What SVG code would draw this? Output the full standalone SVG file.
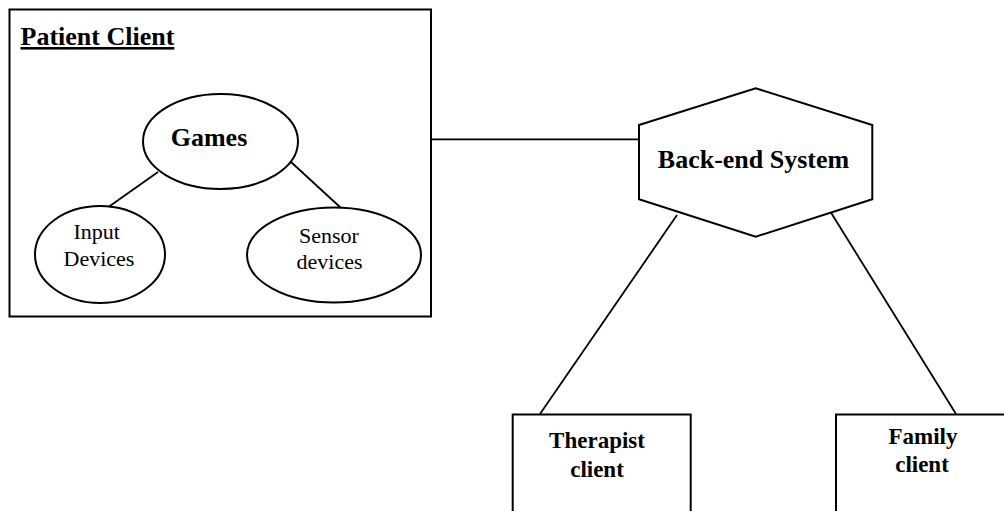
<svg xmlns="http://www.w3.org/2000/svg" width="1004" height="511" viewBox="0 0 1004 511">
<style>
.shape{fill:#fff;stroke:#000;stroke-width:2}
.conn{stroke:#000;stroke-width:1.8;fill:none}
.b{font-family:"Liberation Serif","Times New Roman",serif;font-weight:bold;fill:#000}
.r{font-family:"Liberation Serif","Times New Roman",serif;fill:#000}
</style>
<rect width="1004" height="511" fill="#fff"/>
<g id="patient-client">
<rect class="shape" x="9.5" y="9.5" width="421.5" height="307"/>
<text class="b" x="20.5" y="45" font-size="26" text-decoration="underline">Patient Client</text>
</g>
<g id="connectors">
<line class="conn" x1="158" y1="172" x2="107" y2="208"/>
<line class="conn" x1="291" y1="162" x2="341" y2="208"/>
<line class="conn" x1="431" y1="139.3" x2="639" y2="139.3"/>
<line class="conn" x1="677" y1="215" x2="540" y2="414"/>
<line class="conn" x1="828.3" y1="208.3" x2="956" y2="414"/>
</g>
<g id="games">
<ellipse class="shape" cx="220.5" cy="141.5" rx="77.5" ry="47.5"/>
<text class="b" x="209" y="146" font-size="26" text-anchor="middle">Games</text>
</g>
<g id="input-devices">
<ellipse class="shape" cx="100" cy="254.5" rx="65" ry="48.5"/>
<text class="r" font-size="22" text-anchor="middle"><tspan x="96.7" y="239">Input</tspan><tspan x="99" y="265.7">Devices</tspan></text>
</g>
<g id="sensor-devices">
<ellipse class="shape" cx="334" cy="255" rx="87" ry="47.5"/>
<text class="r" font-size="22" text-anchor="middle"><tspan x="329" y="242.7">Sensor</tspan><tspan x="329.5" y="269">devices</tspan></text>
</g>
<g id="back-end-system">
<polygon class="shape" points="639,125 755.7,88.3 872.3,125 872.3,199.3 755.7,236.7 639,199.3"/>
<text class="b" x="753.5" y="168.3" font-size="26" text-anchor="middle">Back-end System</text>
</g>
<g id="therapist-client">
<rect class="shape" x="512.7" y="414.5" width="178" height="110"/>
<text class="b" font-size="23" text-anchor="middle"><tspan x="597" y="448.3">Therapist</tspan><tspan x="597" y="476.7">client</tspan></text>
</g>
<g id="family-client">
<rect class="shape" x="836" y="414.5" width="178" height="110"/>
<text class="b" font-size="23" text-anchor="middle"><tspan x="923" y="444">Family</tspan><tspan x="922" y="471.7">client</tspan></text>
</g>
</svg>
